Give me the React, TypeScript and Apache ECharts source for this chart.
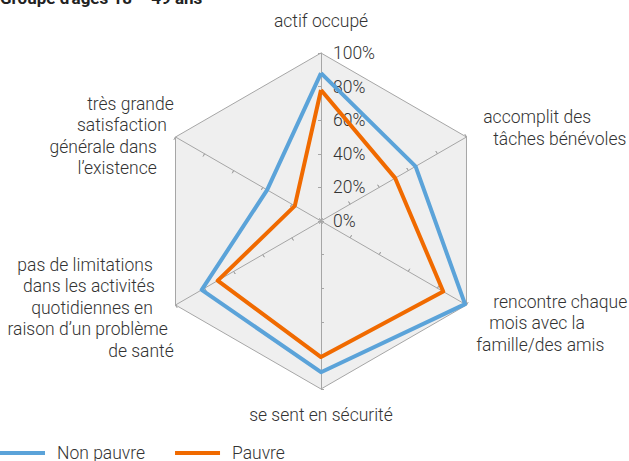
import React, { useEffect, useRef } from "react";
import * as echarts from "echarts";

// Indicators in ECharts' counter-clockwise order, starting at the top
const categories = [
  "actif occupé",
  "très grande\nsatisfaction\ngénérale dans\nl’existence",
  "pas de limitations\ndans les activités\nquotidiennes en\nraison d’un problème\nde santé",
  "se sent en sécurité",
  "rencontre chaque\nmois avec la\nfamille/des amis",
  "accomplit des\ntâches bénévoles",
];
const nonPauvre = [88, 37, 82, 90, 99, 65];
const pauvre = [78, 18, 71, 81, 84, 51];
const seriesNames = ["Non pauvre", "Pauvre"];
const titleText = "Groupe d'âges 18 – 49 ans";

// Layout only: spacer heights before/after, per-line horizontal paddings [right, left] and alignment
const nameLayout: { align: string; before: number; after: number; pads: number[][] }[] = [
  { align: "center", before: 0, after: 12, pads: [[0, 0]] },
  { align: "right", before: 0, after: 0, pads: [[0, 0], [7, 0], [17, 0], [17, 0]] },
  { align: "right", before: 3, after: 0, pads: [[21, 0], [19, 0], [21, 0], [6, 0], [0, 0]] },
  { align: "center", before: 13, after: 0, pads: [[0, 0]] },
  { align: "left", before: 34, after: 0, pads: [[0, 25], [0, 21], [0, 8]] },
  { align: "left", before: 0, after: 16.5, pads: [[0, 15], [0, 25]] },
];

const FONT = "Roboto, 'Noto Sans', sans-serif";
const FS = 17.5;
const LH = 21.5;
const TEXT = "#333";
const GRID = "#a6a6a6";

export default function App() {
  const ref = useRef<HTMLDivElement>(null);
  useEffect(() => {
    document.body.style.margin = "0";
    const chart = echarts.init(ref.current!, null, { renderer: "svg" });

    const rich: Record<string, any> = {};
    nameLayout.forEach((lay, i) => {
      lay.pads.forEach((p, j) => {
        rich[`n${i}_${j}`] = {
          fontFamily: FONT,
          fontSize: FS,
          fontWeight: 300,
          color: TEXT,
          lineHeight: LH,
          padding: [0, p[0], 0, p[1]],
          align: lay.align,
        };
      });
      rich[`b${i}`] = { fontSize: 2, lineHeight: lay.before, height: lay.before };
      rich[`a${i}`] = { fontSize: 2, lineHeight: lay.after, height: lay.after };
    });
    const fmtName = (name: string) => {
      const i = categories.indexOf(name);
      const lay = nameLayout[i];
      const lines = name.split("\n").map((line, j) => `{n${i}_${j}|${line}}`);
      if (lay.before > 0) lines.unshift(`{b${i}| }`);
      if (lay.after > 0) lines.push(`{a${i}| }`);
      return lines.join("\n");
    };

    const commonRadar = {
      center: [321, 221],
      radius: 168,
      startAngle: 90,
      splitNumber: 5,
      shape: "polygon",
    };

    chart.setOption({
      animation: false,
      title: {
        text: titleText,
        left: 0,
        top: -11,
        padding: 0,
        textStyle: { fontFamily: FONT, fontSize: 17, fontWeight: "bold", color: "#222" },
      },
      legend: {
        data: seriesNames,
        left: 0,
        top: 444,
        padding: 0,
        icon: "rect",
        itemWidth: 45,
        itemHeight: 4,
        itemGap: 30,
        textStyle: {
          fontFamily: FONT,
          fontSize: FS,
          fontWeight: 300,
          color: TEXT,
          padding: [0, 0, 0, 7],
        },
      },
      radar: [
        {
          ...commonRadar,
          indicator: categories.map((name, i) => ({
            name,
            max: 100,
            min: 0,
            axisLabel: i === 0 ? { show: true } : undefined,
          })),
          axisName: {
            formatter: fmtName,
            color: TEXT,
            fontFamily: FONT,
            fontSize: FS,
            fontWeight: 300,
            lineHeight: LH,
            rich,
          },
          nameGap: 2,
          axisLine: { lineStyle: { color: GRID, width: 1 } },
          axisTick: { show: true, length: 3, lineStyle: { color: GRID } },
          axisLabel: {
            show: false,
            formatter: (v: number) => v + "%",
            color: TEXT,
            fontFamily: FONT,
            fontSize: FS,
            fontWeight: 300,
            margin: -12,
            align: "left",
            verticalAlign: "middle",
          },
          splitLine: {
            lineStyle: {
              color: ["transparent", "transparent", "transparent", "transparent", "transparent", GRID],
              width: 1,
            },
          },
          splitArea: { areaStyle: { color: ["#efefef"] } },
        },
        {
          ...commonRadar,
          indicator: categories.map((name) => ({ name, max: 100, min: 0 })),
          axisName: { show: false },
          axisLine: { show: false },
          axisTick: { show: true, inside: true, length: 3, lineStyle: { color: GRID } },
          axisLabel: { show: false },
          splitLine: { show: false },
          splitArea: { show: false },
        },
      ],
      series: [
        {
          type: "radar",
          radarIndex: 0,
          symbol: "none",
          data: [
            {
              name: seriesNames[0],
              value: nonPauvre,
              lineStyle: { color: "#5ba3d9", width: 4 },
              itemStyle: { color: "#5ba3d9" },
            },
            {
              name: seriesNames[1],
              value: pauvre,
              lineStyle: { color: "#f06a00", width: 4 },
              itemStyle: { color: "#f06a00" },
            },
          ],
        },
      ],
    });
    return () => chart.dispose();
  }, []);
  return <div ref={ref} style={{ width: 629, height: 461 }} />;
}
